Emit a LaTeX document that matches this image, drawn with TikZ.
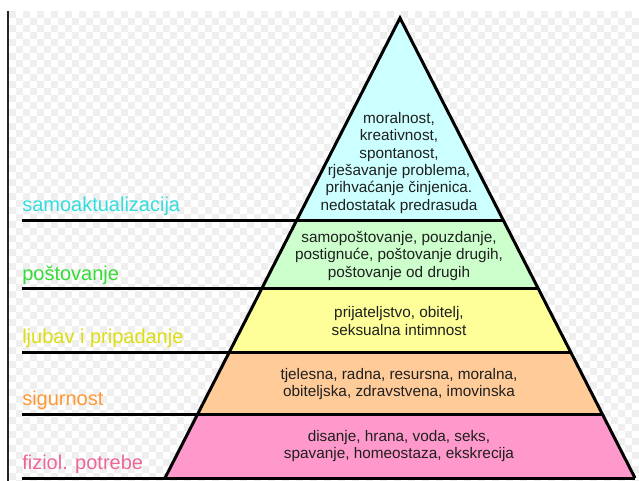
\documentclass[tikz,border=0pt]{standalone}
\usepackage{fontspec}
\setmainfont{Liberation Sans}
\usepackage{xcolor}
\usetikzlibrary{calc}

\definecolor{checker}{HTML}{EFEFEF}
\definecolor{tier1}{HTML}{CCFFFF}
\definecolor{tier2}{HTML}{CCFFCC}
\definecolor{tier3}{HTML}{FFFF99}
\definecolor{tier4}{HTML}{FFCC99}
\definecolor{tier5}{HTML}{FF99CC}
\definecolor{lbl1}{HTML}{33DDDD}
\definecolor{lbl2}{HTML}{33DD33}
\definecolor{lbl3}{HTML}{DDDD11}
\definecolor{lbl4}{HTML}{FF9933}
\definecolor{lbl5}{HTML}{EE6699}

\begin{document}
\begin{tikzpicture}[x=0.75pt,y=-0.75pt,line join=miter,
    level label/.style={anchor=base west,inner sep=0pt,font=\fontsize{15}{18}\selectfont},
    tier text/.style={align=center,inner sep=0pt,text=black!88,font=\fontsize{11.5}{13}\selectfont},
    level line/.style={line width=2.25pt}]

    \useasboundingbox (0,0) rectangle (639,481);
    \fill[white] (0,0) rectangle (639,481);

    % transparency checkerboard of the screenshot
    \begin{scope}
        \clip (9,11) rectangle (639,481);
        \foreach \j in {0,...,67} {
            \pgfmathtruncatemacro\off{mod(\j,2)}
            \foreach \i in {0,...,45}
                \fill[checker] (9+14*\i+7*\off,11+7*\j) rectangle ++(7,7);
        }
    \end{scope}
    \draw[black!85,line width=1.1pt] (8,11) -- (8,481);

    \coordinate (apex) at (400,18);
    \coordinate (bl) at (165,478);
    \coordinate (br) at (635,478);
    \coordinate (start) at (22,0);

    \foreach \name/\t in {a/0.4413,b/0.5891,c/0.7261,d/0.8609} {
        \coordinate (l-\name) at ($(apex)!\t!(bl)$);
        \coordinate (r-\name) at ($(apex)!\t!(br)$);
    }

    \fill[tier1] (apex) -- (r-a) -- (l-a) -- cycle;
    \fill[tier2] (l-a) -- (r-a) -- (r-b) -- (l-b) -- cycle;
    \fill[tier3] (l-b) -- (r-b) -- (r-c) -- (l-c) -- cycle;
    \fill[tier4] (l-c) -- (r-c) -- (r-d) -- (l-d) -- cycle;
    \fill[tier5] (l-d) -- (r-d) -- (br) -- (bl) -- cycle;

    \foreach \name in {a,b,c,d}
        \draw[level line] (r-\name -| start) -- (r-\name);
    \draw[level line] (bl -| start) -- (br);
    \draw[level line] (bl) -- (apex) -- (br);

    \node[level label,text=lbl1] (self) at (22,212) {samoaktualizacija};
    \node[level label,text=lbl2] (esteem) at (22,280) {poštovanje};
    \node[level label,text=lbl3] (love) at (22,343) {ljubav i pripadanje};
    \node[level label,text=lbl4] (safety) at (22,405) {sigurnost};
    \node[level label,text=lbl5] (physio) at (22,469) {fiziol. potrebe};

    \node[tier text] (self-text) at (399,163) {moralnost,\\kreativnost,\\spontanost,\\rješavanje problema,\\prihvaćanje činjenica.\\nedostatak predrasuda};
    \node[tier text] (esteem-text) at (399,256) {samopoštovanje, pouzdanje,\\postignuće, poštovanje drugih,\\poštovanje od drugih};
    \node[tier text] (love-text) at (399,321) {prijateljstvo, obitelj,\\seksualna intimnost};
    \node[tier text] (safety-text) at (399,384) {tjelesna, radna, resursna, moralna,\\obiteljska, zdravstvena, imovinska};
    \node[tier text] (physio-text) at (399,446) {disanje, hrana, voda, seks,\\spavanje, homeostaza, ekskrecija};

\end{tikzpicture}
\end{document}
